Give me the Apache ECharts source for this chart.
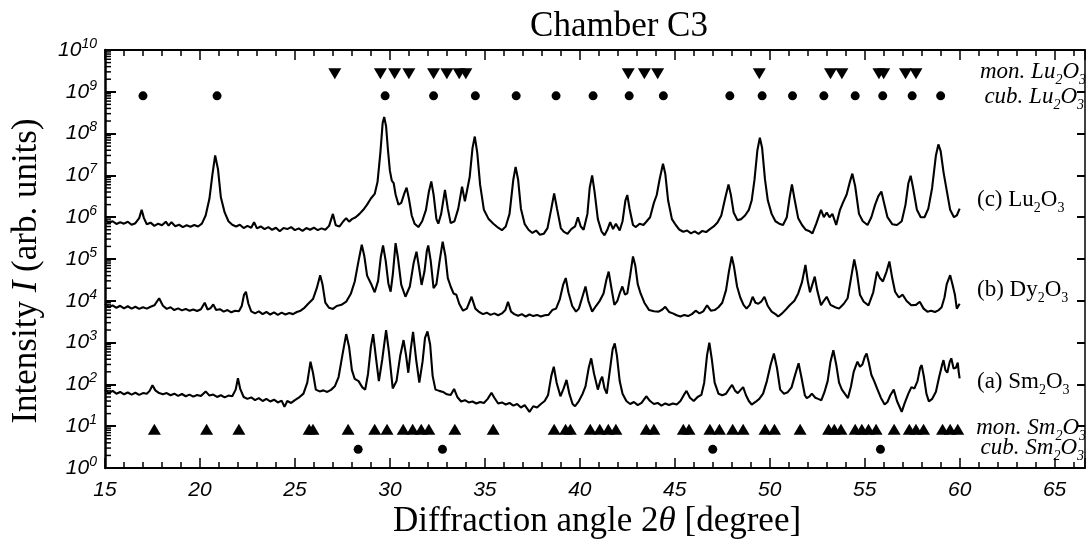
<!DOCTYPE html>
<html><head><meta charset="utf-8">
<script src="https://cdn.jsdelivr.net/npm/echarts@6/dist/echarts.min.js"></script>
<style>html,body{margin:0;padding:0;background:#fff}#c{width:1088px;height:544px}</style>
</head><body><div id="c"></div>
<script>
// ---- Data ----
const titleText = 'Chamber C3';
const xMin = 15, xMax = 66.6;
const yMin = 1, yMax = 1e10;
const decades = [0,1,2,3,4,5,6,7,8,9];      // decades that carry log minor ticks
const minorMultipliers = [2,3,4,5,6,7,8,9];  // minor tick positions inside a decade

// (c) Lu2O3 pattern
const luData = [[15.0,8.5e5],[15.2,7.4e5],[15.4,8.0e5],[15.6,6.9e5],[15.8,7.6e5],[16.0,7.0e5],[16.2,7.8e5],[16.4,6.6e5],[16.6,7.2e5],[16.8,9.5e5],[16.93,1.5e6],[17.05,9.5e5],[17.2,6.8e5],[17.4,7.4e5],[17.6,6.2e5],[17.8,7.0e5],[18.0,6.4e5],[18.2,7.8e5],[18.35,6.3e5],[18.5,7.6e5],[18.7,6.1e5],[18.9,6.6e5],[19.1,5.8e5],[19.3,6.4e5],[19.5,5.9e5],[19.7,6.5e5],[19.9,6.0e5],[20.1,7.0e5],[20.3,1.1e6],[20.5,2.8e6],[20.65,1.0e7],[20.8,3.0e7],[20.95,1.4e7],[21.1,3.0e6],[21.3,1.3e6],[21.5,8.0e5],[21.7,6.6e5],[21.9,6.0e5],[22.1,6.6e5],[22.3,5.5e5],[22.5,6.2e5],[22.7,5.6e5],[22.85,7.6e5],[23.0,5.4e5],[23.2,6.0e5],[23.4,5.2e5],[23.6,5.8e5],[23.8,5.0e5],[24.0,5.6e5],[24.2,4.6e5],[24.4,5.5e5],[24.6,5.2e5],[24.8,5.8e5],[25.0,4.9e5],[25.2,5.4e5],[25.4,4.7e5],[25.6,5.5e5],[25.8,5.0e5],[26.0,5.6e5],[26.2,4.9e5],[26.4,5.4e5],[26.6,5.0e5],[26.8,6.2e5],[27.0,1.2e6],[27.15,6.4e5],[27.35,6.0e5],[27.55,8.0e5],[27.7,9.5e5],[27.85,7.8e5],[28.0,9.0e5],[28.2,1.0e6],[28.4,1.2e6],[28.6,1.5e6],[28.8,2.0e6],[29.0,2.8e6],[29.2,3.6e6],[29.35,7.0e6],[29.5,3.5e7],[29.62,1.8e8],[29.7,2.5e8],[29.8,1.5e8],[29.9,4.0e7],[30.0,1.3e7],[30.1,7.5e6],[30.2,6.5e6],[30.3,3.5e6],[30.45,2.0e6],[30.6,2.2e6],[30.75,3.6e6],[30.88,5.1e6],[31.0,2.8e6],[31.15,1.1e6],[31.3,7.0e5],[31.5,5.8e5],[31.7,8.0e5],[31.9,1.5e6],[32.05,4.0e6],[32.18,7.2e6],[32.3,3.5e6],[32.45,9.0e5],[32.55,7.0e5],[32.7,1.2e6],[32.9,4.5e6],[33.05,1.6e6],[33.2,7.2e5],[33.4,8.0e5],[33.6,1.6e6],[33.8,5.4e6],[33.95,2.4e6],[34.05,2.6e6],[34.2,9.0e6],[34.35,4.5e7],[34.47,8.5e7],[34.6,3.5e7],[34.75,6.0e6],[34.95,1.5e6],[35.2,9.0e5],[35.45,7.0e5],[35.7,5.6e5],[35.9,4.9e5],[36.1,6.0e5],[36.3,1.2e6],[36.5,8.0e6],[36.62,1.6e7],[36.75,8.0e6],[36.9,1.6e6],[37.1,6.8e5],[37.3,5.0e5],[37.5,4.2e5],[37.7,4.8e5],[37.9,3.8e5],[38.1,4.0e5],[38.3,5.5e5],[38.5,1.6e6],[38.65,3.7e6],[38.8,1.6e6],[39.0,5.5e5],[39.15,4.5e5],[39.35,4.0e5],[39.55,5.2e5],[39.75,6.0e5],[39.9,1.0e6],[40.05,6.0e5],[40.2,5.0e5],[40.4,1.2e6],[40.52,5.0e6],[40.65,1.0e7],[40.78,4.0e6],[40.95,9.0e5],[41.15,4.5e5],[41.3,3.7e5],[41.45,5.0e5],[41.6,7.6e5],[41.75,5.2e5],[41.9,7.0e5],[42.1,4.8e5],[42.25,8.0e5],[42.4,2.5e6],[42.5,3.4e6],[42.62,1.6e6],[42.8,6.5e5],[42.95,5.8e5],[43.15,7.0e5],[43.35,6.5e5],[43.5,7.8e5],[43.7,1.0e6],[43.9,2.2e6],[44.05,3.4e6],[44.2,8.0e6],[44.38,1.9e7],[44.5,1.1e7],[44.65,2.5e6],[44.85,9.0e5],[45.05,6.5e5],[45.25,5.0e5],[45.45,4.5e5],[45.65,4.8e5],[45.85,4.1e5],[46.05,4.6e5],[46.25,4.0e5],[46.45,4.7e5],[46.65,4.4e5],[46.85,5.2e5],[47.05,6.0e5],[47.25,7.5e5],[47.45,1.1e6],[47.65,2.8e6],[47.83,6.1e6],[47.95,3.5e6],[48.1,1.3e6],[48.3,8.5e5],[48.5,9.0e5],[48.7,1.1e6],[48.9,1.5e6],[49.05,2.5e6],[49.2,8.0e6],[49.35,4.0e7],[49.48,8.0e7],[49.6,4.5e7],[49.75,8.0e6],[49.9,2.5e6],[50.1,1.2e6],[50.3,8.0e5],[50.5,7.0e5],[50.7,6.5e5],[50.9,1.0e6],[51.05,3.0e6],[51.17,6.1e6],[51.3,2.8e6],[51.5,9.4e5],[51.7,6.5e5],[51.9,5.0e5],[52.1,4.6e5],[52.25,4.1e5],[52.45,7.0e5],[52.7,1.5e6],[52.85,1.0e6],[53.0,1.3e6],[53.15,1.0e6],[53.3,1.2e6],[53.5,6.5e5],[53.7,1.5e6],[53.85,2.2e6],[54.05,3.5e6],[54.22,7.0e6],[54.35,1.1e7],[54.5,5.5e6],[54.7,1.2e6],[54.9,8.0e5],[55.15,6.5e5],[55.35,1.0e6],[55.55,2.0e6],[55.72,3.2e6],[55.88,4.1e6],[56.02,2.2e6],[56.2,1.0e6],[56.45,6.8e5],[56.7,6.5e5],[56.95,8.0e5],[57.15,2.0e6],[57.3,6.5e6],[57.42,9.8e6],[57.55,5.0e6],[57.75,1.5e6],[57.95,1.0e6],[58.15,1.0e6],[58.35,1.6e6],[58.55,5.0e6],[58.75,3.0e7],[58.88,5.5e7],[59.0,3.8e7],[59.15,1.2e7],[59.3,4.9e6],[59.5,1.5e6],[59.7,1.0e6],[59.85,1.1e6],[60.0,1.6e6]];

// (b) Dy2O3 pattern
const dyData = [[15.0,8.5e3],[15.2,7.0e3],[15.4,7.8e3],[15.6,6.8e3],[15.8,7.6e3],[16.0,6.6e3],[16.2,7.4e3],[16.4,6.5e3],[16.6,7.2e3],[16.8,6.4e3],[17.0,7.0e3],[17.2,6.5e3],[17.4,7.2e3],[17.6,7.8e3],[17.85,1.15e4],[18.05,7.6e3],[18.25,6.4e3],[18.45,7.0e3],[18.65,6.0e3],[18.85,6.6e3],[19.05,5.9e3],[19.25,6.4e3],[19.45,5.8e3],[19.65,6.2e3],[19.85,5.7e3],[20.05,6.3e3],[20.25,9.0e3],[20.4,6.2e3],[20.55,6.6e3],[20.7,8.2e3],[20.85,6.0e3],[21.05,6.3e3],[21.25,5.5e3],[21.45,6.0e3],[21.65,5.3e3],[21.85,5.8e3],[22.05,5.6e3],[22.2,7.5e3],[22.32,1.4e4],[22.42,1.65e4],[22.55,8.5e3],[22.7,5.6e3],[22.9,5.0e3],[23.1,5.6e3],[23.3,4.8e3],[23.5,5.4e3],[23.7,4.7e3],[23.9,5.3e3],[24.1,4.6e3],[24.3,5.2e3],[24.5,4.7e3],[24.7,5.1e3],[24.9,4.8e3],[25.1,5.4e3],[25.3,5.8e3],[25.5,6.8e3],[25.7,8.5e3],[25.95,1.1e4],[26.15,2.0e4],[26.33,4.1e4],[26.45,2.5e4],[26.6,9.0e3],[26.8,6.8e3],[27.0,6.4e3],[27.2,7.5e3],[27.45,8.0e3],[27.7,9.5e3],[27.95,1.5e4],[28.15,2.9e4],[28.35,9.0e4],[28.52,2.2e5],[28.65,1.2e5],[28.8,4.0e4],[28.9,3.8e4],[29.0,2.6e4],[29.2,1.6e4],[29.38,3.0e4],[29.52,1.1e5],[29.64,2.1e5],[29.78,9.0e4],[29.92,2.6e4],[30.04,1.65e4],[30.16,4.5e4],[30.3,2.4e5],[30.42,1.1e5],[30.6,2.4e4],[30.82,1.25e4],[31.05,2.2e4],[31.25,8.0e4],[31.4,1.5e5],[31.52,7.0e4],[31.67,2.4e4],[31.82,5.0e4],[31.95,1.6e5],[32.02,2.1e5],[32.15,9.0e4],[32.3,2.0e4],[32.45,2.5e4],[32.62,9.0e4],[32.78,2.6e5],[32.92,1.2e5],[33.05,3.5e4],[33.2,2.2e4],[33.35,1.5e4],[33.5,1.4e4],[33.65,8.5e3],[33.85,5.8e3],[34.05,6.5e3],[34.3,1.25e4],[34.5,6.5e3],[34.7,5.4e3],[34.9,4.8e3],[35.1,5.2e3],[35.3,4.6e3],[35.5,5.0e3],[35.7,4.5e3],[35.9,5.0e3],[36.08,6.0e3],[36.22,9.5e3],[36.38,5.5e3],[36.55,4.8e3],[36.75,4.4e3],[36.95,4.8e3],[37.15,4.2e3],[37.35,4.7e3],[37.55,4.3e3],[37.75,4.6e3],[37.95,4.2e3],[38.15,4.5e3],[38.35,4.6e3],[38.55,6.0e3],[38.75,6.5e3],[38.95,1.1e4],[39.12,2.4e4],[39.26,3.5e4],[39.4,1.6e4],[39.6,7.5e3],[39.8,5.5e3],[39.95,6.5e3],[40.15,1.3e4],[40.3,2.2e4],[40.45,1.0e4],[40.65,5.5e3],[40.85,7.5e3],[41.05,1.0e4],[41.25,1.5e4],[41.4,3.2e4],[41.52,5.0e4],[41.65,2.2e4],[41.82,8.0e3],[41.98,1.0e4],[42.12,1.6e4],[42.24,2.2e4],[42.38,1.4e4],[42.5,1.5e4],[42.65,4.0e4],[42.8,1.15e5],[42.92,7.0e4],[43.05,2.5e4],[43.2,1.5e4],[43.4,9.0e3],[43.65,6.0e3],[43.9,5.6e3],[44.15,5.5e3],[44.35,6.2e3],[44.5,7.2e3],[44.7,5.4e3],[44.9,5.0e3],[45.1,4.5e3],[45.3,4.2e3],[45.5,4.6e3],[45.7,4.3e3],[45.9,4.8e3],[46.1,5.8e3],[46.3,5.0e3],[46.5,5.6e3],[46.7,7.8e3],[46.9,5.8e3],[47.1,6.0e3],[47.3,7.0e3],[47.5,9.0e3],[47.7,1.8e4],[47.85,5.0e4],[48.0,1.15e5],[48.12,6.5e4],[48.28,2.2e4],[48.45,1.2e4],[48.62,8.0e3],[48.78,6.5e3],[48.95,8.0e3],[49.1,1.25e4],[49.25,9.0e3],[49.4,8.5e3],[49.55,9.5e3],[49.72,1.25e4],[49.9,7.5e3],[50.1,5.5e3],[50.3,4.8e3],[50.45,4.2e3],[50.65,5.0e3],[50.85,6.2e3],[51.05,7.8e3],[51.3,1.0e4],[51.5,1.5e4],[51.7,2.8e4],[51.88,7.2e4],[52.0,3.0e4],[52.12,1.6e4],[52.25,2.5e4],[52.37,3.8e4],[52.5,1.8e4],[52.7,7.8e3],[52.85,1.0e4],[53.0,1.25e4],[53.2,8.0e3],[53.45,7.0e3],[53.65,6.5e3],[53.9,8.5e3],[54.1,1.15e4],[54.28,3.5e4],[54.45,9.8e4],[54.58,5.0e4],[54.75,1.4e4],[54.95,9.5e3],[55.2,7.8e3],[55.45,1.6e4],[55.65,5.0e4],[55.8,3.5e4],[55.96,2.9e4],[56.15,5.0e4],[56.3,8.7e4],[56.45,3.5e4],[56.6,1.65e4],[56.8,1.2e4],[57.0,1.4e4],[57.2,1.0e4],[57.45,7.8e3],[57.7,8.0e3],[57.9,9.5e3],[58.1,6.5e3],[58.3,5.5e3],[58.5,5.8e3],[58.7,5.4e3],[58.9,6.0e3],[59.05,7.0e3],[59.2,1.2e4],[59.32,2.5e4],[59.5,4.1e4],[59.62,2.5e4],[59.75,1.4e4],[59.85,6.5e3],[59.95,7.0e3],[60.0,8.5e3]];

// (a) Sm2O3 pattern
const smData = [[15.0,75],[15.2,62],[15.4,70],[15.6,60],[15.8,66],[16.0,58],[16.2,64],[16.4,57],[16.6,63],[16.8,56],[17.0,62],[17.2,60],[17.35,70],[17.5,95],[17.65,72],[17.85,62],[18.05,58],[18.25,62],[18.45,55],[18.65,60],[18.85,53],[19.05,59],[19.25,52],[19.45,57],[19.65,51],[19.85,56],[20.05,53],[20.3,68],[20.5,54],[20.7,57],[20.9,50],[21.1,55],[21.3,49],[21.5,54],[21.7,52],[21.88,75],[22.0,140],[22.12,78],[22.3,50],[22.5,45],[22.7,49],[22.9,42],[23.1,47],[23.3,40],[23.5,45],[23.7,39],[23.9,43],[24.1,37],[24.3,41],[24.45,29],[24.6,40],[24.8,36],[25.0,42],[25.2,48],[25.45,60],[25.65,110],[25.82,350],[25.95,190],[26.1,75],[26.3,68],[26.5,72],[26.7,66],[26.9,74],[27.1,90],[27.3,150],[27.5,500],[27.7,1.6e3],[27.85,800],[28.0,220],[28.15,135],[28.35,120],[28.55,85],[28.7,75],[28.85,180],[29.0,800],[29.12,1.6e3],[29.25,500],[29.42,120],[29.6,400],[29.8,2.0e3],[29.95,600],[30.15,80],[30.35,120],[30.55,500],[30.72,1.15e3],[30.85,500],[30.97,190],[31.1,700],[31.22,1.8e3],[31.38,400],[31.55,110],[31.72,350],[31.85,1.3e3],[31.98,1.85e3],[32.12,900],[32.25,160],[32.4,75],[32.6,70],[32.8,66],[33.0,58],[33.2,56],[33.38,78],[33.55,50],[33.75,39],[33.95,42],[34.15,37],[34.35,39],[34.55,35],[34.75,38],[34.95,36],[35.15,45],[35.35,63],[35.5,48],[35.7,35],[35.9,37],[36.1,33],[36.3,36],[36.5,31],[36.7,34],[36.9,28],[37.1,32],[37.35,22],[37.55,30],[37.75,28],[37.95,34],[38.15,40],[38.33,56],[38.5,160],[38.63,265],[38.78,110],[38.98,52],[39.15,80],[39.3,128],[39.45,60],[39.62,34],[39.75,30],[39.95,40],[40.15,60],[40.3,90],[40.47,250],[40.6,420],[40.75,180],[40.95,75],[41.1,130],[41.18,153],[41.3,80],[41.42,60],[41.6,250],[41.73,700],[41.84,960],[41.95,500],[42.1,120],[42.25,60],[42.45,40],[42.65,34],[42.85,38],[43.05,32],[43.25,36],[43.5,52],[43.7,40],[43.9,34],[44.1,36],[44.3,31],[44.5,35],[44.7,32],[44.9,35],[45.1,33],[45.3,40],[45.48,56],[45.62,70],[45.8,48],[46.0,40],[46.2,50],[46.4,56],[46.55,110],[46.7,500],[46.82,1.0e3],[46.95,400],[47.1,110],[47.3,60],[47.5,55],[47.7,60],[47.88,80],[48.02,97],[48.18,70],[48.32,62],[48.48,75],[48.6,86],[48.75,55],[48.9,40],[49.05,33],[49.25,38],[49.45,45],[49.65,60],[49.85,120],[50.05,300],[50.22,550],[50.38,250],[50.55,75],[50.75,60],[50.95,65],[51.15,85],[51.32,160],[51.52,320],[51.68,140],[51.85,55],[51.95,47],[52.1,52],[52.22,60],[52.4,48],[52.55,45],[52.72,42],[52.88,65],[53.05,120],[53.2,350],[53.35,660],[53.5,300],[53.65,110],[53.8,75],[53.95,60],[54.12,47],[54.28,90],[54.42,200],[54.52,265],[54.62,350],[54.75,265],[54.88,300],[55.0,450],[55.1,550],[55.22,330],[55.35,170],[55.5,120],[55.65,80],[55.85,48],[56.05,33],[56.2,38],[56.35,55],[56.53,75],[56.7,40],[56.85,28],[56.95,22],[57.1,35],[57.3,60],[57.46,86],[57.62,80],[57.78,120],[57.92,250],[58.0,290],[58.12,150],[58.25,60],[58.38,39],[58.55,45],[58.75,67],[58.92,150],[59.08,300],[59.15,380],[59.25,220],[59.35,190],[59.48,350],[59.56,420],[59.68,240],[59.8,250],[59.9,330],[59.95,200],[60.0,140]];

// Reference reflection positions (2theta) and the level at which each row is drawn
const monLuPos = [27.1,29.5,30.25,31.0,32.3,33.0,33.65,34.0,42.55,43.4,44.1,49.45,53.2,53.8,55.75,56.0,57.15,57.7];
const monLuLevel = 2.7e9;
const cubLuPos = [17.0,20.9,29.75,32.3,34.5,36.65,38.75,40.7,42.6,44.4,47.9,49.6,51.2,52.85,54.5,55.95,57.5,59.0];
const cubLuLevel = 8e8;
const monSmPos = [17.6,20.35,22.05,25.75,25.95,27.8,29.2,29.85,30.7,31.2,31.65,32.05,33.42,35.44,38.65,39.25,39.5,40.55,41.05,41.5,41.9,43.5,43.9,45.45,45.75,46.85,47.35,48.05,48.6,49.75,50.25,51.6,53.1,53.4,53.75,54.5,54.85,55.2,55.6,56.55,57.35,57.7,58.1,59.1,59.5,59.9];
const monSmLevel = 8.5;
const cubSmPos = [28.33,32.77,47.0,55.83];
const cubSmLevel = 2.8;

// ---- Chart ----
const chart = echarts.init(document.getElementById('c'), null, {renderer: 'canvas'});
const serif = 'Liberation Serif';
const sans = 'Liberation Sans';
const axisCol = '#000';

function rowData(pos, level) { return pos.map(x => [x, level]); }

const subRich = (size) => ({
  n: {fontFamily: serif, fontSize: size, lineHeight: size + 8, color: '#000'},
  i: {fontFamily: serif, fontStyle: 'italic', fontSize: size, lineHeight: size + 8, color: '#000'},
  s: {fontFamily: serif, fontSize: Math.round(size * 0.62), lineHeight: Math.round(size * 0.62), verticalAlign: 'bottom', color: '#000'},
  si: {fontFamily: serif, fontStyle: 'italic', fontSize: Math.round(size * 0.62), lineHeight: Math.round(size * 0.62), verticalAlign: 'bottom', color: '#000'}
});

function txt(x, y, text, align, rich, extra) {
  return Object.assign({
    type: 'text', x: x, y: y, silent: true,
    style: {text: text, align: align, verticalAlign: 'middle', rich: rich}
  }, extra || {});
}

const labelRich = subRich(23);
const titleRich = subRich(35);

// log-axis minor ticks (2..9 x 10^k) placed through the y-axis scale
function renderMinorTicks(params, api) {
  const k = api.value(0);
  const children = minorMultipliers.map(m => {
    const p = api.coord([xMin, m * Math.pow(10, k)]);
    return {type: 'line', shape: {x1: p[0], y1: p[1], x2: p[0] + 6, y2: p[1]},
            style: {stroke: '#000', lineWidth: 1.5}};
  });
  return {type: 'group', children: children};
}

const option = {
  animation: false,
  backgroundColor: '#fff',
  grid: {left: 105, right: 3, top: 50, bottom: 76, containLabel: false},
  xAxis: [{
    type: 'value', min: xMin, max: xMax, interval: 5, position: 'bottom',
    axisLine: {show: true, lineStyle: {color: axisCol, width: 2}},
    axisTick: {show: true, inside: true, length: 10, lineStyle: {color: axisCol, width: 1.5}},
    minorTick: {show: true, splitNumber: 5, length: 6, lineStyle: {color: axisCol, width: 1.5}},
    splitLine: {show: false},
    axisLabel: {
      margin: 12, color: '#000', fontFamily: sans, fontStyle: 'italic', fontSize: 21,
      formatter: v => (Math.abs(v % 5) < 1e-9 ? String(v) : ''), showMaxLabel: false
    }
  }, {
    type: 'value', min: xMin, max: xMax, interval: 5, position: 'top',
    axisLine: {show: true, lineStyle: {color: axisCol, width: 2}},
    axisTick: {show: true, inside: true, length: 10, lineStyle: {color: axisCol, width: 1.5}},
    minorTick: {show: true, splitNumber: 5, length: 6, lineStyle: {color: axisCol, width: 1.5}},
    splitLine: {show: false}, axisLabel: {show: false}
  }],
  yAxis: [{
    type: 'log', logBase: 10, min: yMin, max: yMax, interval: 1, position: 'left',
    axisLine: {show: true, lineStyle: {color: axisCol, width: 2.5}},
    axisTick: {show: true, inside: true, length: 11, lineStyle: {color: axisCol, width: 2}},
    minorTick: {show: false},
    splitLine: {show: false},
    axisLabel: {
      margin: 8,
      formatter: v => '{b|10}{s|' + Math.round(Math.log10(v)) + '}',
      rich: {
        b: {fontFamily: sans, fontStyle: 'italic', fontSize: 21, lineHeight: 26, color: '#000'},
        s: {fontFamily: sans, fontStyle: 'italic', fontSize: 14, lineHeight: 14, verticalAlign: 'top', color: '#000'}
      }
    }
  }, {
    type: 'log', logBase: 10, min: yMin, max: yMax, interval: 1, position: 'right',
    axisLine: {show: true, lineStyle: {color: axisCol, width: 1.5}},
    axisTick: {show: true, inside: true, length: 8, lineStyle: {color: axisCol, width: 2}},
    splitLine: {show: false}, axisLabel: {show: false}
  }],
  series: [
    {name: 'Lu2O3', type: 'line', data: luData, showSymbol: false, symbol: 'none', lineStyle: {color: '#000', width: 2.1}},
    {name: 'Dy2O3', type: 'line', data: dyData, showSymbol: false, symbol: 'none', lineStyle: {color: '#000', width: 2.1}},
    {name: 'Sm2O3', type: 'line', data: smData, showSymbol: false, symbol: 'none', lineStyle: {color: '#000', width: 2.1}},
    {name: 'mon. Lu2O3', type: 'scatter', data: rowData(monLuPos, monLuLevel), symbol: 'triangle', symbolRotate: 180, symbolSize: [13, 11], itemStyle: {color: '#000', opacity: 1}},
    {name: 'cub. Lu2O3', type: 'scatter', data: rowData(cubLuPos, cubLuLevel), symbol: 'circle', symbolSize: 9, itemStyle: {color: '#000', opacity: 1}},
    {name: 'mon. Sm2O3', type: 'scatter', data: rowData(monSmPos, monSmLevel), symbol: 'triangle', symbolSize: [13, 11], itemStyle: {color: '#000', opacity: 1}},
    {name: 'cub. Sm2O3', type: 'scatter', data: rowData(cubSmPos, cubSmLevel), symbol: 'circle', symbolSize: 9, itemStyle: {color: '#000', opacity: 1}},
    {name: 'minor ticks', type: 'custom', silent: true, clip: false, data: decades.map(k => [k]),
     encode: {x: -1, y: -1}, renderItem: renderMinorTicks}
  ],
  graphic: [
    txt(619, 27, '{n|' + titleText + '}', 'center', titleRich),
    txt(597, 522, '{n|Diffraction angle 2}{i|θ}{n| [degree]}', 'center', titleRich),
    txt(27, 271, '{n|Intensity }{i|I}{n| (arb. units)}', 'center', titleRich, {rotation: Math.PI / 2}),
    txt(1086, 72, '{i|mon. Lu}{si|2}{i|O}{si|3}', 'right', labelRich),
    txt(1084, 97, '{i|cub. Lu}{si|2}{i|O}{si|3}', 'right', labelRich),
    txt(977, 200, '{n|(c) Lu}{s|2}{n|O}{s|3}', 'left', labelRich),
    txt(977, 290, '{n|(b) Dy}{s|2}{n|O}{s|3}', 'left', labelRich),
    txt(977, 382, '{n|(a) Sm}{s|2}{n|O}{s|3}', 'left', labelRich),
    txt(1086, 428, '{i|mon. Sm}{si|2}{i|O}{si|3}', 'right', labelRich),
    txt(1084, 448, '{i|cub. Sm}{si|2}{i|O}{si|3}', 'right', labelRich)
  ]
};
chart.setOption(option);
</script></body></html>
